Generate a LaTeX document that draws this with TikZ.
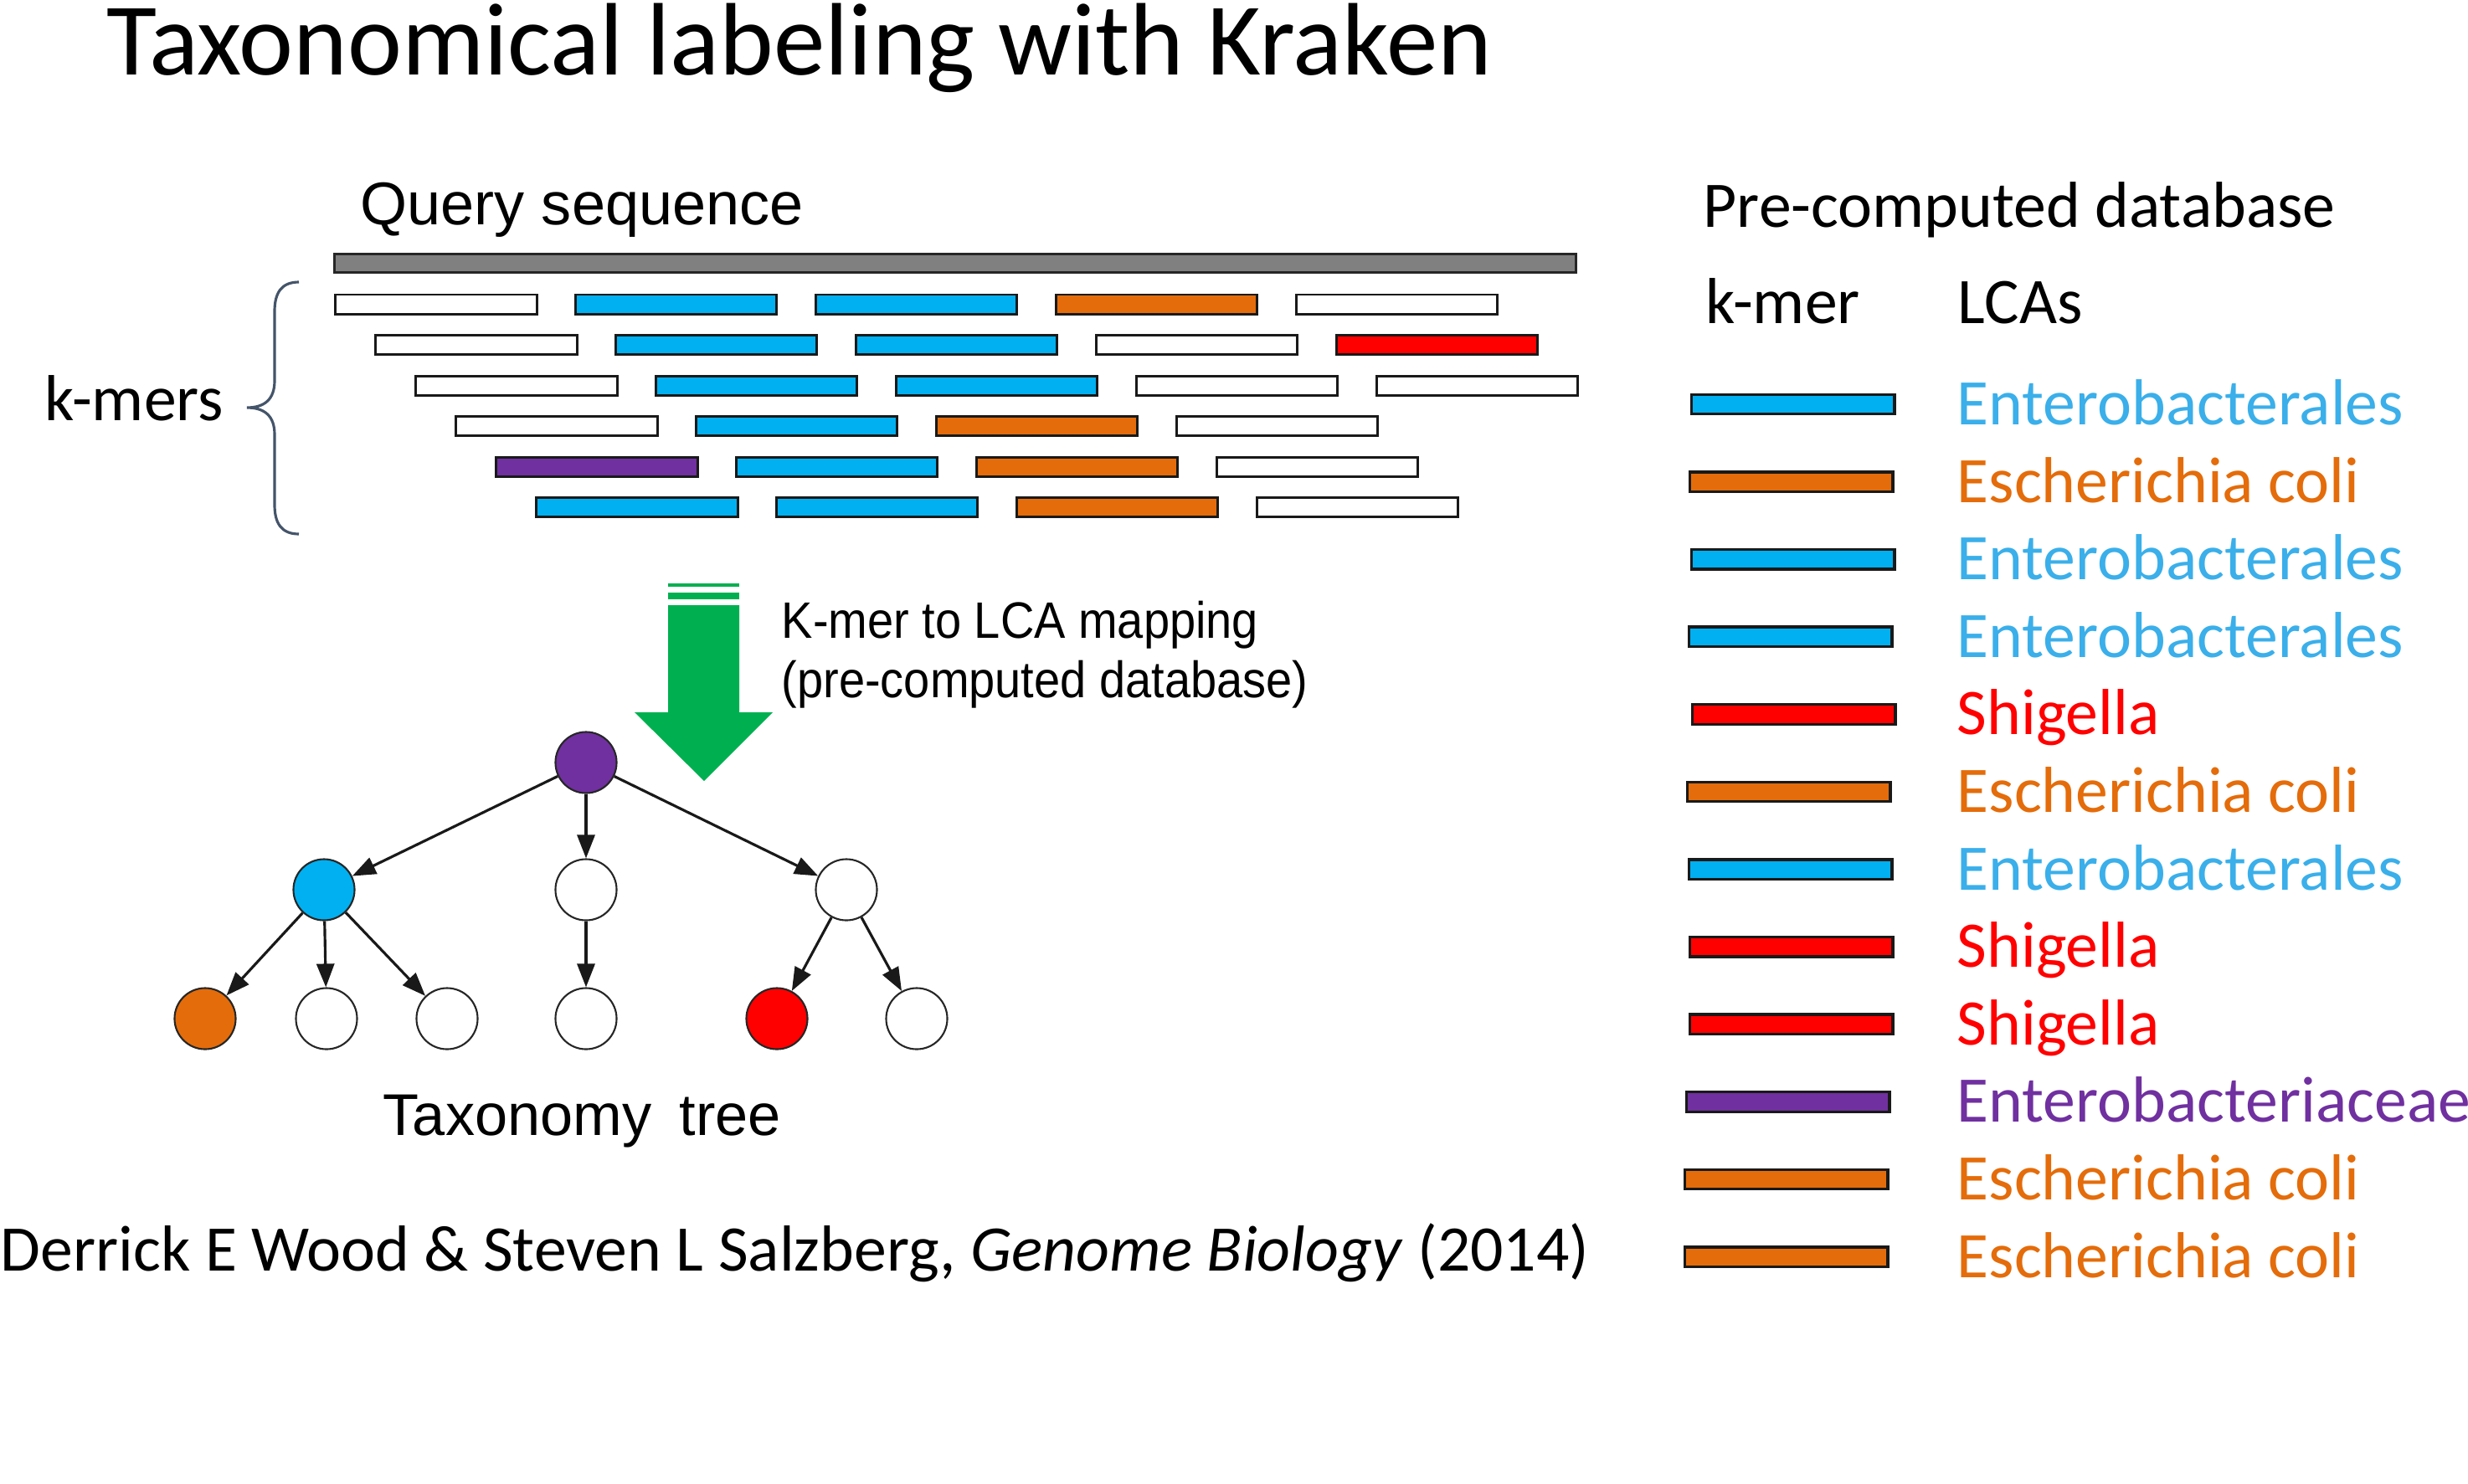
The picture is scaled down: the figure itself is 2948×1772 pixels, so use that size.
\documentclass[tikz,border=0pt]{standalone}
\usepackage{fontspec}
\setmainfont{Carlito}
\newfontfamily\figfont{Liberation Sans}
\newfontfamily\figfontn[FakeStretch=0.915]{Liberation Sans}
\usetikzlibrary{arrows.meta}

% k-mer bar fills
\definecolor{kW}{HTML}{FFFFFF}
\definecolor{kB}{HTML}{00B0F0}
\definecolor{kO}{HTML}{E46C0A}
\definecolor{kR}{HTML}{FF0000}
\definecolor{kP}{HTML}{7030A0}
% LCA label colours
\definecolor{tB}{HTML}{3AAFEA}
\definecolor{tO}{HTML}{E46C0A}
\definecolor{tR}{HTML}{FF0000}
\definecolor{tP}{HTML}{7030A0}
\definecolor{seqgray}{HTML}{808080}
\definecolor{mapgreen}{HTML}{00B050}
\definecolor{bracecol}{HTML}{44546A}

\begin{document}
\begin{tikzpicture}[x=0.01cm,y=-0.01cm,
  txt/.style={anchor=base west, inner sep=0pt},
  calibri/.style={font=\fontsize{22.1pt}{26pt}\selectfont},
  kbar/.style={draw=black!90, line width=0.85pt, minimum width=2.4cm,
    minimum height=0.23cm, inner sep=0pt},
  lbar/.style={draw=black!90, line width=0.95pt, minimum width=2.42cm,
    minimum height=0.235cm, inner sep=0pt, anchor=west},
  tnode/.style={circle, draw=black!85, line width=0.6pt,
    minimum size=0.73cm, inner sep=0pt},
  tedge/.style={draw=black!90, line width=0.9pt,
    -{Triangle[length=0.28cm,width=0.21cm]}}]
\useasboundingbox (0,0) rectangle (2948,1772);

% heading
\node[txt, font=\fontsize{35pt}{41pt}\selectfont] (title) at (127,89)
  {Taxonomical labeling with Kraken};

% query sequence and its k-mers
\node[txt, font=\figfont\fontsize{20.5pt}{24pt}\selectfont] (query) at (430,268)
  {Query sequence};
\node[draw=black!85, fill=seqgray, line width=0.8pt, minimum width=14.82cm,
  minimum height=0.22cm, inner sep=0pt] (seq) at (1141,314.5) {};

\foreach \row/\cols in {0/{W,B,B,O,W}, 1/{W,B,B,W,R}, 2/{W,B,B,W,W},
                        3/{W,B,O,W}, 4/{P,B,O,W}, 5/{B,B,O,W}} {
  \foreach \kcol [count=\i from 0] in \cols {
    \node[kbar, fill=k\kcol] (k-\row-\i)
      at ({521+48*\row+286.9*\i}, {363.5+48.5*\row}) {};
  }
}

\node[txt, calibri] (kmers) at (53,502) {k-mers};
\draw[bracecol, line width=0.9pt]
  (357,337) .. controls (336,337) and (328,350) .. (328,372)
  -- (328,455) .. controls (328,477) and (316,487) .. (295,487)
  .. controls (316,487) and (328,497) .. (328,519)
  -- (328,603) .. controls (328,625) and (336,638) .. (357,638);

% mapping arrow
\fill[mapgreen] (798,697) rectangle (883,701);
\fill[mapgreen] (798,708) rectangle (883,716);
\fill[mapgreen] (798,723) -- (883,723) -- (883,851) -- (923,851)
  -- (841,933) -- (758,851) -- (798,851) -- cycle;
\node[txt, font=\figfontn\fontsize{17.4pt}{20pt}\selectfont] (map1) at (933,762)
  {K-mer to LCA mapping};
\node[txt, font=\figfontn\fontsize{17.4pt}{20pt}\selectfont] (map2) at (933,833)
  {(pre-computed database)};

% taxonomy tree
\node[tnode, fill=kP] (root) at (700,911) {};
\node[tnode, fill=kB] (a) at (387,1063) {};
\node[tnode, fill=white] (b) at (700,1063) {};
\node[tnode, fill=white] (c) at (1011,1063) {};
\node[tnode, fill=kO] (a1) at (245,1217) {};
\node[tnode, fill=white] (a2) at (390,1217) {};
\node[tnode, fill=white] (a3) at (534,1217) {};
\node[tnode, fill=white] (b1) at (700,1217) {};
\node[tnode, fill=kR] (c1) at (928,1217) {};
\node[tnode, fill=white] (c2) at (1095,1217) {};
\foreach \u/\v in {root/a, root/b, root/c, a/a1, a/a2, a/a3, b/b1, c/c1, c/c2}
  \draw[tedge] (\u) -- (\v);
\node[txt, font=\figfont\fontsize{20pt}{24pt}\selectfont] (treelabel) at (457,1356)
  {Taxonomy\hspace{0.14cm} tree};

% reference
\node[txt, calibri] (cite) at (0,1518)
  {Derrick E Wood \& Steven L Salzberg, \textit{Genome Biology} (2014)};

% database table
\node[txt, calibri] (dbhead) at (2034,271) {Pre-computed database};
\node[txt, calibri] (kmerhead) at (2037,386) {k-mer};
\node[txt, calibri] (lcahead) at (2338,386) {LCAs};
\foreach \i/\l/\kcol/\name in {
    0/2019/B/Enterobacterales, 1/2017/O/Escherichia coli,
    2/2019/B/Enterobacterales, 3/2016/B/Enterobacterales,
    4/2020/R/Shigella, 5/2014/O/Escherichia coli,
    6/2016/B/Enterobacterales, 7/2017/R/Shigella,
    8/2017/R/Shigella, 9/2013/P/Enterobacteriaceae,
    10/2011/O/Escherichia coli, 11/2011/O/Escherichia coli} {
  \node[lbar, fill=k\kcol] (lb-\i) at (\l, {483+92.6*\i}) {};
  \node[txt, calibri, text=t\kcol] (lt-\i) at (2337, {507.5+92.6*\i}) {\name};
}
\end{tikzpicture}
\end{document}
